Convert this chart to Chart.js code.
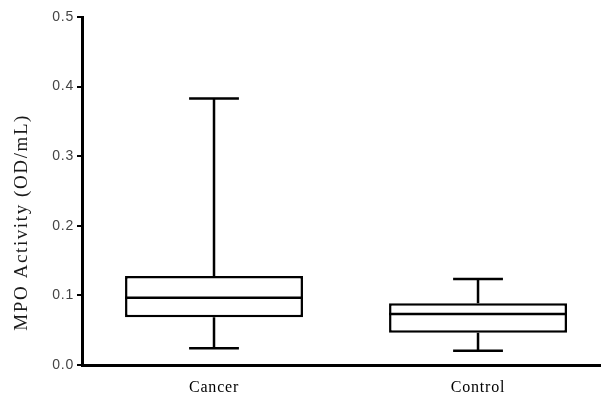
<!DOCTYPE html>
<html>
<head>
<meta charset="utf-8">
<script src="https://cdn.jsdelivr.net/npm/chart.js@4/dist/chart.umd.min.js"></script>
<style>
  html, body { margin: 0; padding: 0; background: #ffffff; }
  #c { display: block; }
</style>
</head>
<body>
<canvas id="c" width="601" height="401"></canvas>
<script>
// MPO activity by group: box = interquartile range, line = median, whiskers = min/max
const categories = ['Cancer', 'Control'];
const positions = [1, 2];
const whiskerMin = [0.024, 0.0205];
const quartile1 = [0.0685, 0.0464];
const medians = [0.0967, 0.0733];
const quartile3 = [0.128, 0.0886];
const whiskerMax = [0.383, 0.1236];
const yTicks = [0, 0.1, 0.2, 0.3, 0.4, 0.5];
const yTitle = 'MPO Activity (OD/mL)';

const boxData = positions.map((p, i) => ({ x: p, y: [quartile1[i], quartile3[i]] }));

// Slightly spaced lettering for the axis text
const letterSpacingPlugin = {
  id: 'letterSpacing',
  beforeDraw(chart) {
    if ('letterSpacing' in chart.ctx) chart.ctx.letterSpacing = '0.8px';
  }
};

// Median lines and whiskers drawn over the boxes using the chart scales
const boxPlotPlugin = {
  id: 'boxPlotExtras',
  afterDatasetsDraw(chart) {
    const ctx = chart.ctx;
    const yScale = chart.scales.y;
    const meta = chart.getDatasetMeta(0);
    ctx.save();
    ctx.strokeStyle = '#000000';
    ctx.lineWidth = 2.5;
    ctx.lineCap = 'butt';
    meta.data.forEach((bar, i) => {
      const cx = bar.x;
      const half = bar.width / 2;
      const capHalf = bar.width * 0.14;
      const yMed = yScale.getPixelForValue(medians[i]);
      const yQ1 = yScale.getPixelForValue(quartile1[i]);
      const yQ3 = yScale.getPixelForValue(quartile3[i]);
      const yMin = yScale.getPixelForValue(whiskerMin[i]);
      const yMax = yScale.getPixelForValue(whiskerMax[i]);
      ctx.beginPath();
      ctx.moveTo(cx - half, yMed); ctx.lineTo(cx + half, yMed);
      ctx.moveTo(cx, yQ3); ctx.lineTo(cx, yMax);
      ctx.moveTo(cx - capHalf, yMax); ctx.lineTo(cx + capHalf, yMax);
      ctx.moveTo(cx, yQ1); ctx.lineTo(cx, yMin);
      ctx.moveTo(cx - capHalf, yMin); ctx.lineTo(cx + capHalf, yMin);
      ctx.stroke();
    });
    ctx.restore();
  }
};

// Rotated y-axis title, centred a little below the middle of the axis
const yTitlePlugin = {
  id: 'yTitle',
  afterDraw(chart) {
    const ctx = chart.ctx;
    const area = chart.chartArea;
    ctx.save();
    if ('letterSpacing' in ctx) ctx.letterSpacing = '1.6px';
    ctx.font = '19px "Liberation Serif", "Times New Roman", serif';
    ctx.fillStyle = '#1a1a1a';
    ctx.textAlign = 'center';
    ctx.textBaseline = 'middle';
    ctx.translate(22, area.top + (area.bottom - area.top) * 0.59);
    ctx.rotate(-Math.PI / 2);
    ctx.fillText(yTitle, 0, 0);
    ctx.restore();
  }
};

new Chart(document.getElementById('c'), {
  type: 'bar',
  data: {
    datasets: [{
      data: boxData,
      backgroundColor: '#ffffff',
      borderColor: '#000000',
      borderWidth: 2.5,
      borderSkipped: false,
      barPercentage: 0.674,
      categoryPercentage: 1
    }]
  },
  options: {
    responsive: false,
    animation: false,
    events: [],
    layout: { padding: { left: 0, top: 17, right: 1, bottom: 0 } },
    plugins: {
      legend: { display: false },
      tooltip: { enabled: false }
    },
    scales: {
      x: {
        type: 'linear',
        offset: false,
        min: 0.5,
        max: 2.462,
        afterBuildTicks(scale) {
          scale.ticks = positions.map(v => ({ value: v }));
        },
        afterFit(scale) { scale.height = 36; },
        grid: { display: false },
        border: { display: true, color: '#000000', width: 3 },
        ticks: {
          padding: 5,
          color: '#000000',
          font: { family: '"Liberation Serif", "Times New Roman", serif', size: 16 },
          callback(value) {
            const i = positions.indexOf(value);
            return i >= 0 ? categories[i] : '';
          }
        }
      },
      y: {
        min: 0,
        max: 0.5,
        afterBuildTicks(scale) {
          scale.ticks = yTicks.map(v => ({ value: v }));
        },
        afterFit(scale) { scale.width = 82; },
        grid: {
          drawOnChartArea: false,
          drawTicks: true,
          tickLength: 5,
          color: '#000000',
          lineWidth: 2
        },
        border: { display: true, color: '#000000', width: 3 },
        ticks: {
          padding: 3,
          color: '#444444',
          font: { family: '"Liberation Sans", Arial, sans-serif', size: 14 },
          callback(value) { return value.toFixed(1); }
        }
      }
    }
  },
  plugins: [letterSpacingPlugin, boxPlotPlugin, yTitlePlugin]
});
</script>
</body>
</html>
